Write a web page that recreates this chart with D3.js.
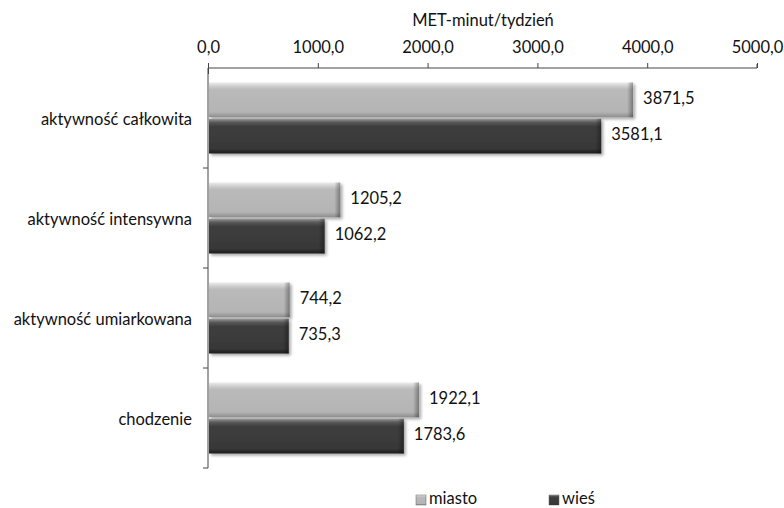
<!DOCTYPE html>
<html>
<head>
<meta charset="utf-8">
<script src="https://cdn.jsdelivr.net/npm/d3@7"></script>
<style>
  html, body { margin: 0; padding: 0; background: #fff; }
  svg text { font-family: Lato, "Open Sans", sans-serif; fill: #111; }
</style>
</head>
<body>
<svg id="chart" width="784" height="508"></svg>
<script>
const categories = ["aktywność całkowita", "aktywność intensywna", "aktywność umiarkowana", "chodzenie"];
const seriesNames = ["miasto", "wieś"];
const miasto = [3871.5, 1205.2, 744.2, 1922.1];
const wies = [3581.1, 1062.2, 735.3, 1783.6];
const xTicks = [0, 1000, 2000, 3000, 4000, 5000];
const axisTitle = "MET-minut/tydzień";

const fmt = v => d3.format(".1f")(v).replace(".", ",");
const FS = 16.5;

const svg = d3.select("#chart");
const plotL = 208, plotR = 757, plotT = 68, plotB = 468;

const x = d3.scaleLinear().domain([0, 5000]).range([plotL, plotR]);
const y = d3.scaleBand().domain(categories).range([plotT, plotB]).paddingInner(0).paddingOuter(0);
const inner = d3.scaleBand().domain(seriesNames).range([0, y.bandwidth()]).paddingInner(0.04).paddingOuter(0.4);

const defs = svg.append("defs");
function grad(id, stops) {
  const g = defs.append("linearGradient").attr("id", id).attr("x1", 0).attr("y1", 0).attr("x2", 0).attr("y2", 1);
  stops.forEach(([o, c]) => g.append("stop").attr("offset", o).attr("stop-color", c));
}
grad("gLight", [[0, "#ececec"], [0.1, "#d0d0d0"], [0.2, "#bababa"], [0.85, "#b4b4b4"], [1, "#8c8c8c"]]);
grad("gDark", [[0, "#9a9a9a"], [0.1, "#5a5a5a"], [0.22, "#3e3e3e"], [0.85, "#383838"], [1, "#1e1e1e"]]);
const endG = defs.append("linearGradient").attr("id", "gEnd").attr("x1", 0).attr("y1", 0).attr("x2", 1).attr("y2", 0);
endG.append("stop").attr("offset", 0).attr("stop-color", "#000").attr("stop-opacity", 0);
endG.append("stop").attr("offset", 1).attr("stop-color", "#000").attr("stop-opacity", 0.35);
const shadow = defs.append("filter").attr("id", "shadow").attr("x", "-5%").attr("y", "-20%").attr("width", "115%").attr("height", "160%");
shadow.append("feDropShadow").attr("dx", 2).attr("dy", 2).attr("stdDeviation", 1.5).attr("flood-color", "#000").attr("flood-opacity", 0.35);

const fills = { "miasto": "url(#gLight)", "wieś": "url(#gDark)" };
const data = categories.map((c, i) => ({ cat: c, vals: [{ s: "miasto", v: miasto[i] }, { s: "wieś", v: wies[i] }] }));

// top value axis
const axis = d3.axisTop(x).tickValues(xTicks).tickFormat(fmt).tickSize(5).tickSizeOuter(0);
const gx = svg.append("g").attr("transform", `translate(0,${plotT})`).call(axis);
gx.select(".domain").attr("stroke", "#444").attr("d", `M${plotL},0H${plotR}V-4`);
gx.selectAll(".tick line").attr("stroke", "#444").attr("y2", -5);
gx.selectAll(".tick text").attr("font-size", FS).attr("y", -15).attr("dy", 0).style("font-family", "Lato, 'Open Sans', sans-serif").attr("fill", "#111");
gx.select(".tick line").attr("y1", 6);

svg.append("text").attr("x", 483).attr("y", 26).attr("text-anchor", "middle").attr("font-size", FS).text(axisTitle);

// category axis
svg.append("line").attr("x1", plotL).attr("x2", plotL).attr("y1", plotT).attr("y2", plotB).attr("stroke", "#444");
categories.slice(1).forEach(c => {
  svg.append("line").attr("x1", plotL - 5).attr("x2", plotL).attr("y1", y(c)).attr("y2", y(c)).attr("stroke", "#444");
});
svg.append("line").attr("x1", plotL - 5).attr("x2", plotL).attr("y1", plotB).attr("y2", plotB).attr("stroke", "#444");

svg.append("g").selectAll("text").data(categories).join("text")
  .attr("x", 192).attr("y", d => y(d) + y.bandwidth() / 2 + 3)
  .attr("text-anchor", "end").attr("font-size", FS).attr("dominant-baseline", "middle")
  .text(d => d);

// bars
const groups = svg.append("g").selectAll("g").data(data).join("g")
  .attr("transform", d => `translate(0,${y(d.cat)})`);

const bars = groups.selectAll("g.bar").data(d => d.vals).join("g").attr("class", "bar");
bars.append("rect")
  .attr("x", x(0) + 1).attr("y", d => inner(d.s))
  .attr("width", d => x(d.v) - x(0) - 1).attr("height", inner.bandwidth())
  .attr("fill", d => fills[d.s]).attr("filter", "url(#shadow)");
bars.append("rect")
  .attr("x", d => x(d.v) - 6).attr("y", d => inner(d.s))
  .attr("width", 6).attr("height", inner.bandwidth())
  .attr("fill", "url(#gEnd)");
bars.append("text")
  .attr("x", d => x(d.v) + 10).attr("y", d => inner(d.s) + inner.bandwidth() / 2)
  .attr("dominant-baseline", "middle").attr("font-size", FS)
  .text(d => fmt(d.v));

// legend
const legend = svg.append("g");
const legendX = [416, 549];
seriesNames.forEach((s, i) => {
  legend.append("rect").attr("x", legendX[i]).attr("y", 495).attr("width", 10).attr("height", 10)
    .attr("fill", fills[s]).attr("stroke", "#666").attr("stroke-width", 0.5);
  legend.append("text").attr("x", legendX[i] + 13).attr("y", 504).attr("font-size", FS).text(s);
});
</script>
</body>
</html>
